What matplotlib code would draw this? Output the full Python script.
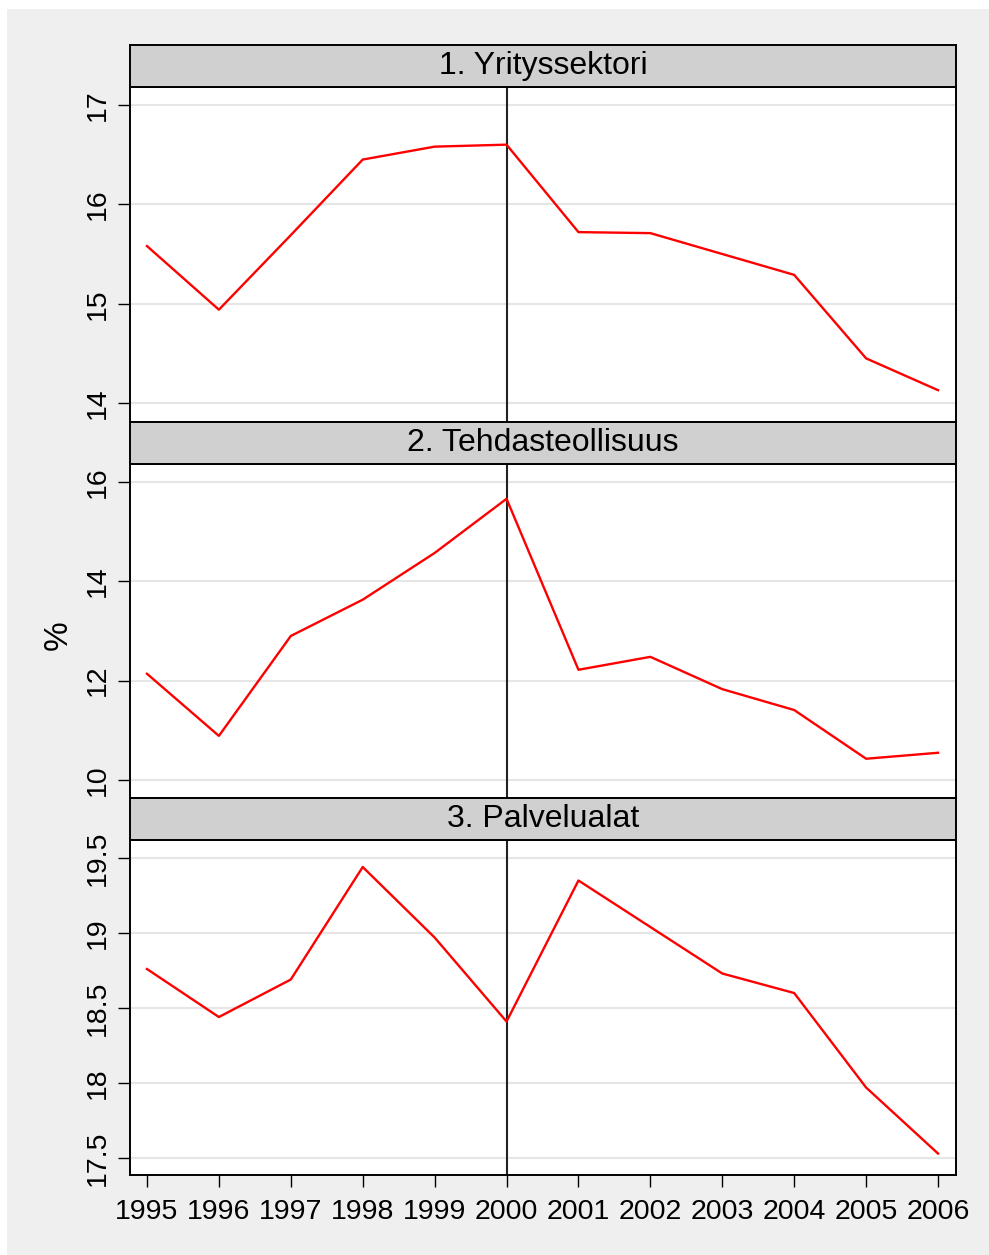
import numpy as np
import matplotlib
matplotlib.use("Agg")
import matplotlib.pyplot as plt
from matplotlib.patches import Rectangle

plt.rcParams['font.family'] = ['Liberation Sans', 'DejaVu Sans']

years = np.arange(1995, 2007)

# panel titles and series
titles = ["1. Yrityssektori", "2. Tehdasteollisuus", "3. Palvelualat"]
yrityssektori = [15.58, 14.94, 15.69, 16.45, 16.58, 16.60, 15.72, 15.71, 15.50, 15.29, 14.45, 14.13]
tehdasteollisuus = [12.14, 10.89, 12.90, 13.63, 14.57, 15.66, 12.22, 12.48, 11.83, 11.41, 10.43, 10.55]
palvelualat = [18.76, 18.44, 18.69, 19.44, 18.97, 18.41, 19.35, 19.04, 18.73, 18.60, 17.97, 17.53]

yticks = [[14, 15, 16, 17], [10, 12, 14, 16], [17.5, 18, 18.5, 19, 19.5]]
yticklabels = [["14", "15", "16", "17"], ["10", "12", "14", "16"],
               ["17.5", "18", "18.5", "19", "19.5"]]
ylims = [(13.81, 17.18), (9.64, 16.36), (17.387, 19.62)]
series = [yrityssektori, tehdasteollisuus, palvelualat]

W, H = 989, 1255
fig = plt.figure(figsize=(W / 100, H / 100), dpi=100)
fig.patch.set_facecolor("white")
fig.patches.append(Rectangle((7 / W, 0), 1 - 7 / W, 1 - 9 / H, transform=fig.transFigure,
                             facecolor="#efefef", edgecolor="none", zorder=-10))

left, right = 130 / W, 956 / W
plots = [(87, 422), (464, 798), (840, 1175)]
headers = [(45, 87), (422, 464), (798, 840)]

for i in range(3):
    top, bot = plots[i]
    ax = fig.add_axes([left, 1 - bot / H, right - left, (bot - top) / H])
    ax.set_facecolor("white")
    ax.plot(years, series[i], color="red", lw=1.7, zorder=3)
    ax.axvline(2000, color="#222222", lw=1.5, zorder=2)
    ax.set_xlim(1994.764, 2006.25)
    ax.set_ylim(*ylims[i])
    ax.set_yticks(yticks[i])
    ax.set_yticklabels(yticklabels[i], rotation=90, va="center", fontsize=20.5)
    ax.yaxis.grid(True, color="#e6e6e6", lw=1.5)
    ax.set_axisbelow(True)
    ax.tick_params(axis="y", length=8.6, width=1.0, pad=5)
    for s in ax.spines.values():
        s.set_linewidth(1.4)
    if i < 2:
        ax.set_xticks([])
    else:
        ax.set_xticks(years)
        ax.set_xticklabels([str(y) for y in years], fontsize=20.5)
        ax.tick_params(axis="x", length=8.6, width=1.0, pad=9)

    htop, hbot = headers[i]
    hax = fig.add_axes([left, 1 - hbot / H, right - left, (hbot - htop) / H])
    hax.set_facecolor("#d0d0d0")
    hax.set_xticks([])
    hax.set_yticks([])
    for s in hax.spines.values():
        s.set_linewidth(1.4)
    hax.text(0.5, 0.5, titles[i], transform=hax.transAxes, ha="center", va="center",
             fontsize=23)

fig.text(58 / W, 1 - 635 / H, "%", rotation=90, ha="center", va="center", fontsize=24)

fig.savefig("out.png", dpi=100)
